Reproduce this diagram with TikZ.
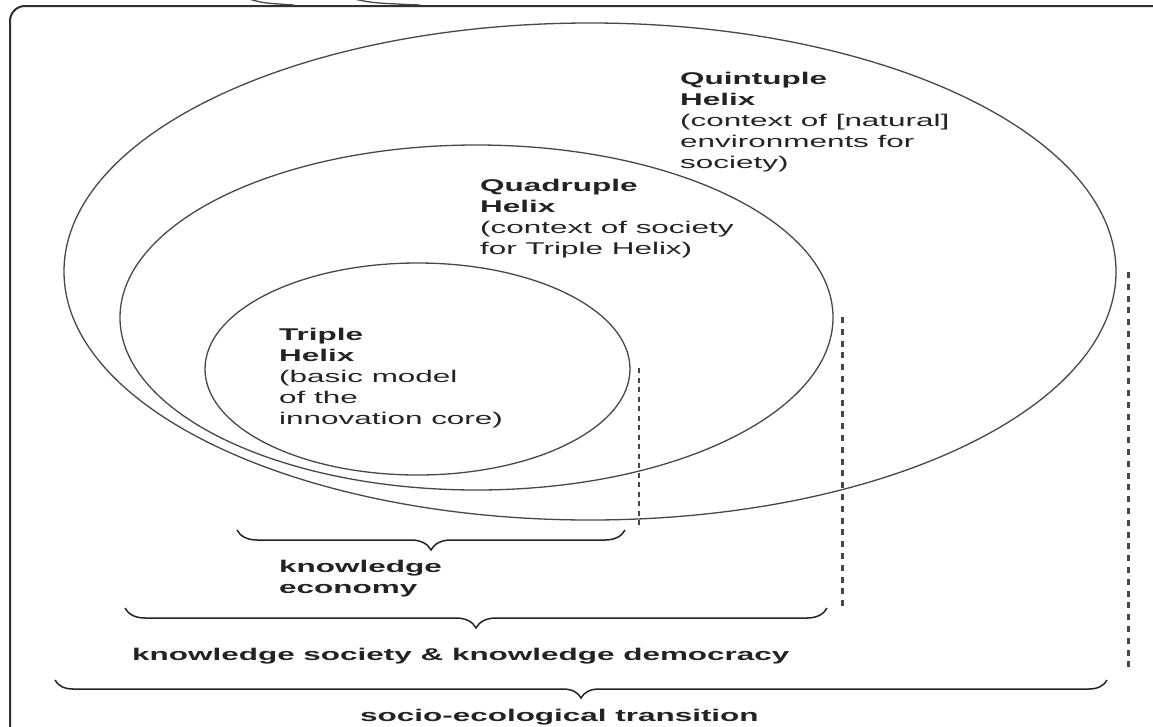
\documentclass[tikz,border=0pt]{standalone}
\usepackage{fontspec}
\setmainfont[FakeStretch=1.85]{Liberation Sans}
\usetikzlibrary{decorations.pathreplacing,shapes.geometric}
\definecolor{ink}{HTML}{232323}
\definecolor{linegray}{HTML}{474747}
\definecolor{framegray}{HTML}{303030}
\begin{document}
\begin{tikzpicture}[x=1pt,y=-1pt,
  ring/.style={draw=linegray, line width=1.3pt, ellipse, inner sep=0pt},
  dashA/.style={draw=linegray, line width=2pt, dash pattern=on 5pt off 4.5pt},
  dashB/.style={draw=linegray, line width=3pt, dash pattern=on 6pt off 5.8pt},
  curly/.style={draw=ink, line width=1.5pt, decorate,
    decoration={brace, mirror, amplitude=#1}},
  txt/.style={inner sep=0pt, anchor=base west, align=left, text=ink,
    font=\fontsize{17}{20.8}\selectfont},
  frameline/.style={draw=framegray, line width=2pt}]
\useasboundingbox (0,0) rectangle (1153,726);
\clip (0,0) rectangle (1153,726);
% outer frame
\draw[frameline] (10,740) -- (10,21) arc[start angle=180, end angle=270, radius=15] -- (1170,6);
% fragments above the frame
\draw[linegray, line width=1.3pt] (246,-2) .. controls (262,3) .. (294,5);
\draw[linegray, line width=1.3pt] (350,-2) .. controls (372,3) .. (420,5);
% ellipses
\node[ring, minimum width=1052pt, minimum height=497pt] (quint) at (590,271.5) {};
\node[ring, minimum width=713pt, minimum height=345pt] (quad) at (476.5,317.5) {};
\node[ring, minimum width=425pt, minimum height=212pt] (triple) at (417.5,369) {};
% dotted guide lines
\coordinate (d1a) at (639,368);
\coordinate (d1b) at (639,528);
\coordinate (d2a) at (842,317);
\coordinate (d2b) at (842,610);
\coordinate (d3a) at (1128,272);
\coordinate (d3b) at (1128,672);
\draw[dashA] (d1a) -- (d1b);
\draw[dashB] (d2a) -- (d2b);
\draw[dashB] (d3a) -- (d3b);
% braces
\coordinate (b1l) at (237,530);
\coordinate (b1r) at (625,530);
\coordinate (b2l) at (125,608);
\coordinate (b2r) at (827,608);
\coordinate (b3l) at (55,680);
\coordinate (b3r) at (1107,680);
\draw[curly=20pt] (b1l) -- (b1r);
\draw[curly=20pt] (b2l) -- (b2r);
\draw[curly=18pt] (b3l) -- (b3r);
% texts (anchored at the baseline of their last line)
\node[txt] (quinttxt) at (680,168) {\textbf{Quintuple}\\\textbf{Helix}\\(context of [natural]\\environments for\\society)};
\node[txt] (quadtxt) at (480,254) {\textbf{Quadruple}\\\textbf{Helix}\\(context of society\\for Triple Helix)};
\node[txt] (tripletxt) at (279,424) {\textbf{Triple}\\\textbf{Helix}\\(basic model\\of the\\innovation core)};
\node[txt] (ketxt) at (279,593) {\textbf{knowledge}\\\textbf{economy}};
\node[txt] (kstxt) at (132,660) {\textbf{knowledge society \& knowledge democracy}};
\node[txt] (settxt) at (360,721) {\textbf{socio-ecological transition}};
\end{tikzpicture}
\end{document}
